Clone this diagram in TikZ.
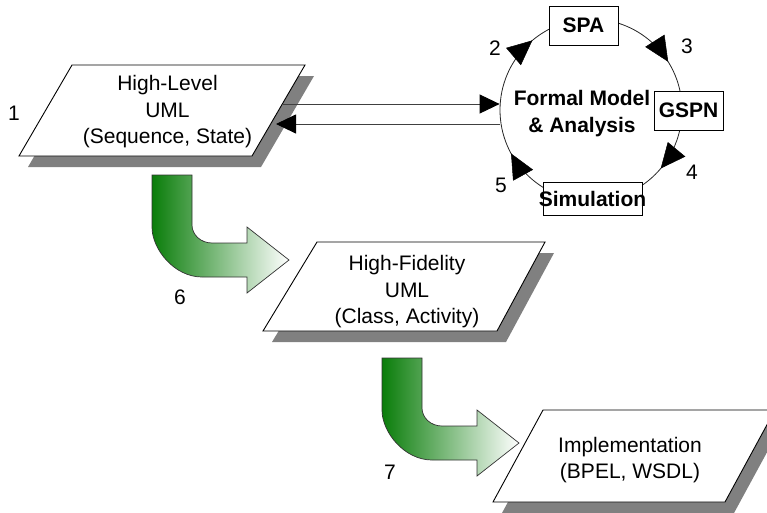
\documentclass[tikz,border=0pt]{standalone}
\usepackage{fontspec}
\setmainfont{Liberation Sans}
\usetikzlibrary{arrows.meta,calc}
\definecolor{darkg}{RGB}{10,125,10}
\begin{document}
\begin{tikzpicture}[x=1pt,y=-1pt,
  txt/.style={font=\fontsize{21}{26.5}\selectfont, align=center, inner sep=0pt},
  btxt/.style={font=\fontsize{21}{26.5}\selectfont\bfseries, align=center, inner sep=0pt},
  shad/.style={fill=black!50, draw=none},
  para/.style={fill=white, draw=black, line width=0.9pt, line join=miter},
  conn/.style={draw=black!75, line width=0.9pt},
  tipb/.style={-{Triangle[length=20pt,width=19pt,color=black,fill=black]}},
  headfill/.style={fill=black, draw=black, line width=0.5pt, line join=miter},
  boxn/.style={draw=black, fill=white, line width=0.9pt, inner sep=0pt, font=\fontsize{21}{26.5}\selectfont\bfseries},
  bendarrow/.style={draw=black!80, line width=0.7pt, left color=darkg, right color=white}
]
\clip (0,0) rectangle (767,512);
\fill[white] (0,0) rectangle (767,512);

% parallelograms with shadows
\fill[shad] (81,76) -- (314,76) -- (261,167) -- (28,167) -- cycle;
\draw[para] (72,65) -- (305,65) -- (252,156) -- (19,156) -- cycle;
\fill[shad] (326,253) -- (554,253) -- (506,342) -- (272,342) -- cycle;
\draw[para] (317,242) -- (545,242) -- (497,331) -- (263,331) -- cycle;
\fill[shad] (552,421) -- (784,421) -- (734,513) -- (502,513) -- cycle;
\draw[para] (543,410) -- (775,410) -- (725,502) -- (493,502) -- cycle;

\node[txt] (p1) at (167.5,112) {High-Level\\UML\\(Sequence, State)};
\node[txt] (p2) at (407,292) {High-Fidelity\\UML\\(Class, Activity)};
\node[txt] (p3) at (630,460) {Implementation\\(BPEL, WSDL)};

% bent green arrows
\foreach \ox/\oy in {152/175, 382/358}{
  \begin{scope}[shift={(\ox,\oy)}]
    \path[bendarrow] (0,0) -- (40,0) -- (40,50) .. controls (40,60) and (49,68) .. (60,68)
      -- (95,68) -- (95,52) -- (137,85) -- (95,118) -- (95,102) -- (50,102)
      .. controls (22.4,102) and (0,74.4) .. (0,52) -- cycle;
  \end{scope}
}

% formal model circle
\node[circle, draw=black!85, line width=0.8pt, minimum size=182pt, inner sep=0pt] (fm) at (591,110) {};
\foreach \a in {229.5, 327.6, 39.6, 151.1}{
  \path[headfill] ($(fm.center)+(\a:91)$)
     -- ($(fm.center)+(\a:91)+(\a-90:24)+(\a:11)$)
     -- ($(fm.center)+(\a:91)+(\a-90:24)+(\a:-11)$) -- cycle;
}

\node[boxn, minimum width=69pt, minimum height=39pt] (spa) at (583.5,25.5) {SPA};
\node[boxn, minimum width=69pt, minimum height=39pt] (gspn) at (688.5,110.5) {GSPN};
\node[boxn, minimum width=99pt, minimum height=33pt] (sim) at (592.5,198.5) {\makebox[0pt][c]{Simulation}};
\node[btxt] (fmt) at (582,113.5) {Formal Model\\\& Analysis};

% connectors between high-level UML and formal model
\coordinate (p1out) at (282,104);
\coordinate (p1in) at (276,124);
\draw[conn,tipb] (p1out) -- (p1out -| fm.west);
\draw[conn,tipb] (p1in -| fm.west) -- (p1in);

% step labels
\node[txt] (l1) at (14,113) {1};
\node[txt] (l2) at (495,48) {2};
\node[txt] (l3) at (687,46) {3};
\node[txt] (l4) at (692,172) {4};
\node[txt] (l5) at (501,185) {5};
\node[txt] (l6) at (180,297) {6};
\node[txt] (l7) at (390,472) {7};
\end{tikzpicture}
\end{document}
